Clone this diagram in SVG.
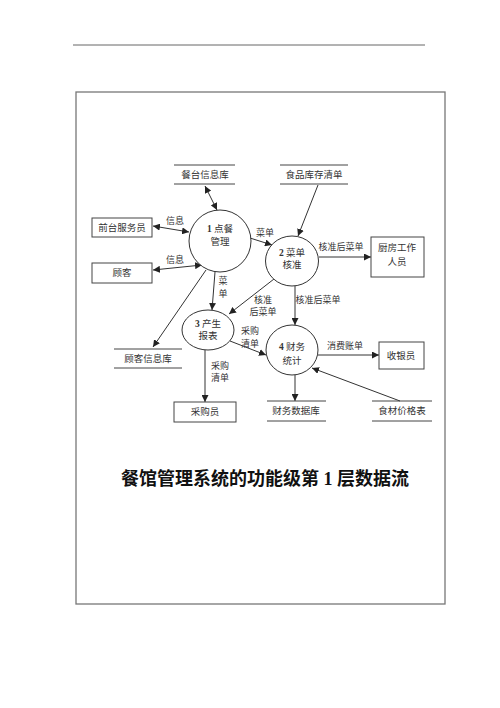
<svg xmlns="http://www.w3.org/2000/svg" width="500" height="708" viewBox="0 0 500 708">
<style>
text{font-family:"Liberation Serif","Noto Sans CJK SC",serif;fill:#333;text-anchor:middle}
.n{font-size:9.5px}
.l{font-size:9px}
.box{fill:#fff;stroke:#444;stroke-width:1}
.ds{stroke:#444;stroke-width:1}
.proc{fill:#fff;stroke:#333;stroke-width:1}
.c line{stroke:#333;stroke-width:1;fill:none}
.title{font-size:18px;font-weight:bold;fill:#111}
</style>
<defs>
<marker id="ah" viewBox="0 0 10 10" refX="10" refY="5" markerWidth="7" markerHeight="7" markerUnits="userSpaceOnUse" orient="auto-start-reverse">
<path d="M0,0 L10,5 L0,10 z" fill="#222"/>
</marker>
</defs>
<rect width="500" height="708" fill="#fff"/>
<line x1="73" y1="45" x2="425" y2="45" stroke="#666" stroke-width="1"/>
<rect x="76" y="92" width="369" height="512" fill="none" stroke="#777" stroke-width="1.3"/>

<g class="c" id="connectors">
<line x1="205" y1="186" x2="217" y2="210" marker-start="url(#ah)" marker-end="url(#ah)"/>
<line x1="153" y1="226" x2="189" y2="232" marker-start="url(#ah)" marker-end="url(#ah)"/>
<line x1="153" y1="270" x2="202" y2="265" marker-start="url(#ah)" marker-end="url(#ah)"/>
<line x1="250" y1="238" x2="272" y2="245" marker-end="url(#ah)"/>
<line x1="318" y1="185" x2="298" y2="236" marker-end="url(#ah)"/>
<line x1="319" y1="257" x2="371" y2="257" marker-end="url(#ah)"/>
<line x1="215" y1="272" x2="212" y2="310" marker-end="url(#ah)"/>
<line x1="206" y1="270" x2="153" y2="347" marker-end="url(#ah)"/>
<line x1="274" y1="279" x2="229" y2="314" marker-end="url(#ah)"/>
<line x1="230" y1="341" x2="266" y2="355" marker-end="url(#ah)"/>
<line x1="205" y1="350" x2="205" y2="402" marker-end="url(#ah)"/>
<line x1="295" y1="286" x2="295" y2="325" marker-end="url(#ah)"/>
<line x1="318" y1="355" x2="379" y2="355" marker-end="url(#ah)"/>
<line x1="295" y1="375" x2="295" y2="401" marker-end="url(#ah)"/>
<line x1="400" y1="401" x2="312" y2="368" marker-end="url(#ah)"/>
</g>

<g id="labels" class="l">
<text x="175" y="224">信息</text>
<text x="175" y="263">信息</text>
<text x="265" y="236">菜单</text>
<text x="341" y="250">核准后菜单</text>
<text x="223" y="284">菜</text>
<text x="223" y="297">单</text>
<text x="263" y="303">核准</text>
<text x="263" y="315">后菜单</text>
<text x="250" y="334">采购</text>
<text x="250" y="347">清单</text>
<text x="220" y="369">采购</text>
<text x="220" y="381">清单</text>
<text x="318" y="303">核准后菜单</text>
<text x="345" y="349">消费账单</text>
</g>

<g id="ds-cantai"><line class="ds" x1="174" y1="165" x2="235" y2="165"/><line class="ds" x1="174" y1="184" x2="235" y2="184"/><text class="n" x="205" y="178">餐台信息库</text></g>
<g id="ds-shipin"><line class="ds" x1="280" y1="165" x2="348" y2="165"/><line class="ds" x1="280" y1="184" x2="348" y2="184"/><text class="n" x="314" y="178">食品库存清单</text></g>
<g id="ds-guke"><line class="ds" x1="114" y1="349" x2="182" y2="349"/><line class="ds" x1="114" y1="368" x2="182" y2="368"/><text class="n" x="148" y="362">顾客信息库</text></g>
<g id="ds-caiwu"><line class="ds" x1="267" y1="401" x2="326" y2="401"/><line class="ds" x1="267" y1="421" x2="326" y2="421"/><text class="n" x="296" y="414">财务数据库</text></g>
<g id="ds-shicai"><line class="ds" x1="372" y1="401" x2="432" y2="401"/><line class="ds" x1="372" y1="421" x2="432" y2="421"/><text class="n" x="402" y="414">食材价格表</text></g>

<g id="e-qiantai"><rect class="box" x="92" y="218" width="60" height="19"/><text class="n" x="122" y="231">前台服务员</text></g>
<g id="e-guke"><rect class="box" x="92" y="263" width="60" height="20"/><text class="n" x="122" y="276">顾客</text></g>
<g id="e-chufang"><rect class="box" x="371" y="237" width="53" height="40"/><text class="n" x="397" y="251">厨房工作</text><text class="n" x="397" y="265">人员</text></g>
<g id="e-caigou"><rect class="box" x="174" y="402" width="62" height="20"/><text class="n" x="205" y="415">采购员</text></g>
<g id="e-shouyin"><rect class="box" x="379" y="342" width="45" height="27"/><text class="n" x="401" y="359">收银员</text></g>

<g id="p1"><circle class="proc" cx="220" cy="241" r="31"/><text class="n" x="220" y="232"><tspan font-weight="bold">1</tspan> 点餐</text><text class="n" x="220" y="245">管理</text></g>
<g id="p2"><ellipse class="proc" cx="292" cy="261" rx="26.5" ry="25"/><text class="n" x="292" y="256"><tspan font-weight="bold">2</tspan> 菜单</text><text class="n" x="292" y="268">核准</text></g>
<g id="p3"><ellipse class="proc" cx="208" cy="330" rx="26" ry="20"/><text class="n" x="208" y="327"><tspan font-weight="bold">3</tspan> 产生</text><text class="n" x="208" y="339">报表</text></g>
<g id="p4"><ellipse class="proc" cx="292" cy="350" rx="26" ry="25"/><text class="n" x="292" y="350"><tspan font-weight="bold">4</tspan> 财务</text><text class="n" x="292" y="364">统计</text></g>

<text class="title" x="265" y="485">餐馆管理系统的功能级第 1 层数据流</text>
</svg>
